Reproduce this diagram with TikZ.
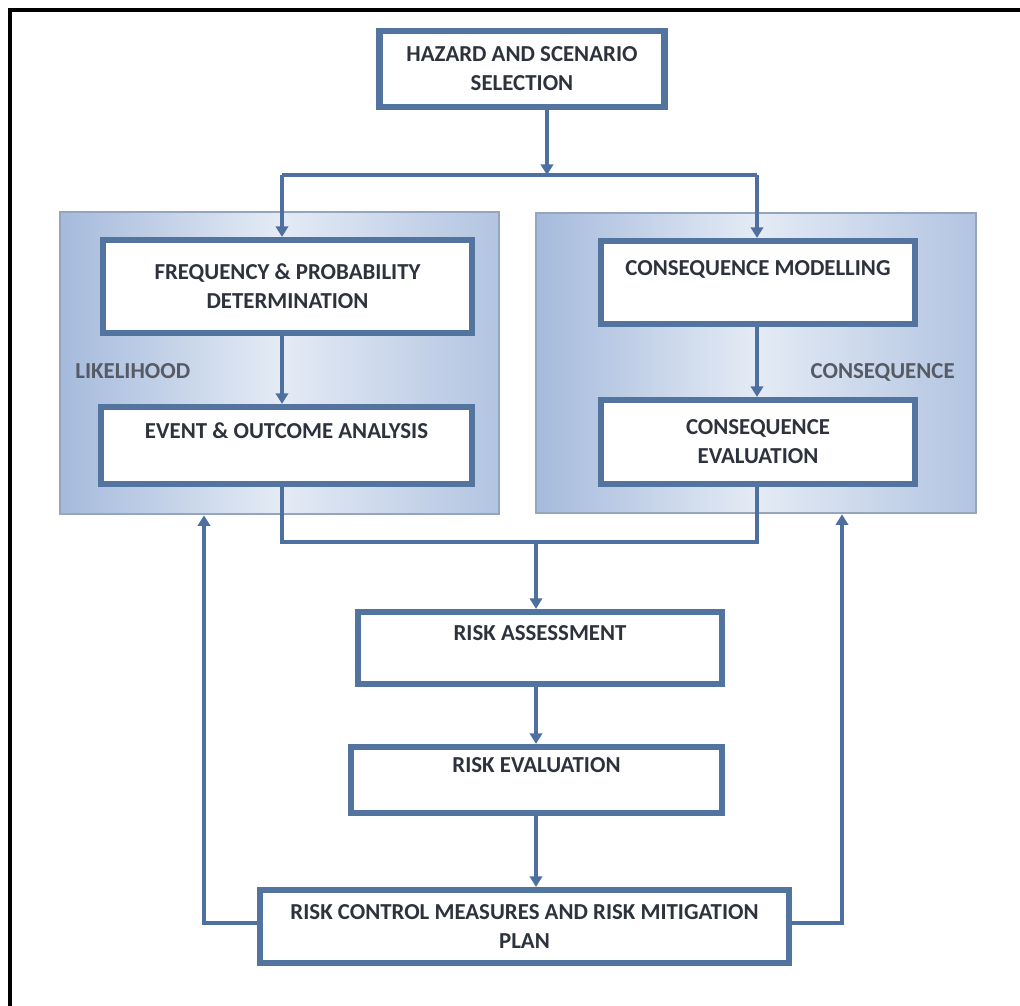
\documentclass[tikz,border=0pt]{standalone}
\usepackage{fontspec}
\setmainfont{Carlito}
\usetikzlibrary{backgrounds,arrows.meta}

\definecolor{boxline}{RGB}{84,116,160}
\definecolor{flow}{RGB}{78,112,160}
\definecolor{ink}{RGB}{45,50,60}
\definecolor{labgray}{RGB}{85,90,100}
\definecolor{paneledge}{RGB}{165,186,220}
\definecolor{panelmid}{RGB}{228,235,245}
\definecolor{panelrim}{RGB}{150,165,190}

\begin{document}
\begin{tikzpicture}
			[b/.style={draw=boxline,line width=3.5pt,fill=white,text=ink,font=\fontsize{13}{16.5}\selectfont\bfseries,align=center,inner sep=1pt},
			 one/.style={text height=0.3cm,text depth=0.6cm},
			 panel/.style={draw=panelrim,line width=1.5pt,left color=paneledge,right color=paneledge!85!white,middle color=panelmid},
			 lab/.style={text=labgray,font=\fontsize{13}{16}\selectfont\bfseries,inner sep=0pt},
			 link/.style={draw=flow,line width=2.6pt},
			 go/.style={link,-{Triangle[width=7pt,length=6pt]}}]

			\useasboundingbox (0,0) rectangle (20.4,-20.12);
			\draw[line width=2.3pt] (0.2,-20.12) -- (0.2,-0.2) -- (20.4,-0.2);

			\node[b,minimum width=5.7cm,minimum height=1.52cm] (hazard) at (10.44,-1.38) {HAZARD AND SCENARIO\\SELECTION};

			\node[b,minimum width=7.38cm,minimum height=1.86cm] (freq) at (5.75,-5.73) {FREQUENCY \& PROBABILITY\\DETERMINATION};

			\node[b,one,minimum width=7.42cm,minimum height=1.54cm] (event) at (5.73,-8.91) {EVENT \& OUTCOME ANALYSIS};

			\node[b,one,minimum width=6.28cm,minimum height=1.66cm] (model) at (15.16,-5.65) {CONSEQUENCE MODELLING};

			\node[b,minimum width=6.28cm,minimum height=1.68cm] (evalc) at (15.16,-8.84) {CONSEQUENCE\\EVALUATION};

			\node[b,one,minimum width=7.28cm,minimum height=1.44cm] (assess) at (10.8,-12.96) {RISK ASSESSMENT};

			\node[b,one,minimum width=7.42cm,minimum height=1.32cm] (evalr) at (10.73,-15.6) {RISK EVALUATION};

			\node[b,minimum width=10.58cm,minimum height=1.46cm] (control) at (10.49,-18.53) {RISK CONTROL MEASURES AND RISK MITIGATION\\PLAN};

			\node[lab,anchor=west] (likely) at (1.5,-7.42) {LIKELIHOOD};

			\node[lab,anchor=east] (conseq) at (19.1,-7.44) {CONSEQUENCE};

				\begin{pgfonlayer}{background}
					\node[panel,minimum width=8.78cm,minimum height=6.04cm] (lpanel) at (5.59,-7.26) {};
					\node[panel,minimum width=8.8cm,minimum height=6cm] (rpanel) at (15.12,-7.26) {};
				\end{pgfonlayer}

			\coordinate (split) at (10.94,-3.5);
			\coordinate (splitl) at (5.64,-3.5);
			\coordinate (splitr) at (15.14,-3.5);
			\coordinate (merge) at (10.72,-10.84);
			\coordinate (backl) at (4.08,-18.46);
			\coordinate (backr) at (16.84,-18.46);

			\draw[go] (hazard.south -| split) -- (split);
			\draw[link] (splitl) -- (splitr);
			\draw[go] (splitl) -- (splitl |- freq.north);
			\draw[go] (splitr) -- (splitr |- model.north);
			\draw[go] (freq.south -| splitl) -- (event.north -| splitl);
			\draw[go] (model.south -| splitr) -- (evalc.north -| splitr);

			\draw[link] (event.south -| splitl) |- (merge) -| (evalc.south -| splitr);
			\draw[go] (merge) -- (assess.north -| merge);
			\draw[go] (assess.south -| merge) -- (evalr.north -| merge);
			\draw[go] (evalr.south -| merge) -- (control.north -| merge);

			\draw[go] (control.west |- backl) -| (lpanel.south -| backl);
			\draw[go] (control.east |- backr) -| (rpanel.south -| backr);

\end{tikzpicture}
\end{document}
